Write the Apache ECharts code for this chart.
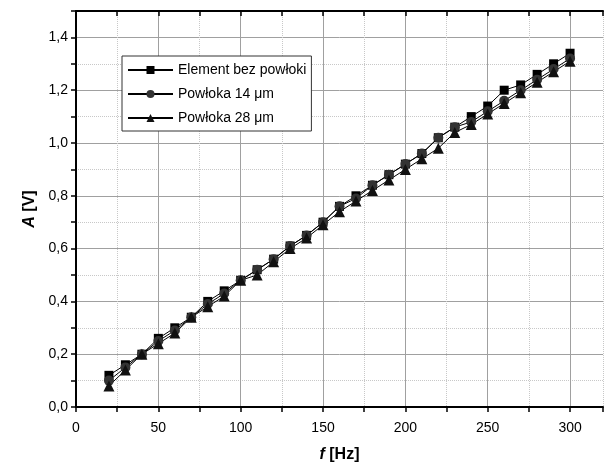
<!DOCTYPE html>
<html>
<head>
<meta charset="utf-8">
<script src="https://cdn.jsdelivr.net/npm/echarts@6/dist/echarts.min.js"></script>
<style>
  html, body { margin: 0; padding: 0; background: #fff; }
  #chart { width: 606px; height: 468px; }
</style>
</head>
<body>
<div id="chart"></div>
<script>
// częstotliwość [Hz]
const freq = [20, 30, 40, 50, 60, 70, 80, 90, 100, 110, 120, 130, 140, 150, 160,
  170, 180, 190, 200, 210, 220, 230, 240, 250, 260, 270, 280, 290, 300];
// amplituda [V]
const bezPowloki = [0.12, 0.16, 0.20, 0.26, 0.30, 0.34, 0.40, 0.44, 0.48, 0.52, 0.56, 0.61, 0.65, 0.70, 0.76,
  0.80, 0.84, 0.88, 0.92, 0.96, 1.02, 1.06, 1.10, 1.14, 1.20, 1.22, 1.26, 1.30, 1.34];
const powloka14 = [0.10, 0.15, 0.20, 0.25, 0.29, 0.34, 0.39, 0.43, 0.48, 0.52, 0.56, 0.61, 0.65, 0.70, 0.76,
  0.79, 0.84, 0.88, 0.92, 0.96, 1.02, 1.06, 1.08, 1.12, 1.16, 1.20, 1.24, 1.28, 1.32];
const powloka28 = [0.08, 0.14, 0.20, 0.24, 0.28, 0.34, 0.38, 0.42, 0.48, 0.50, 0.55, 0.60, 0.64, 0.69, 0.74,
  0.78, 0.82, 0.86, 0.90, 0.94, 0.98, 1.04, 1.07, 1.11, 1.15, 1.19, 1.23, 1.27, 1.31];
const seriesNames = ['Element bez powłoki', 'Powłoka 14 μm', 'Powłoka 28 μm'];

const font = 'Liberation Sans, Arial, sans-serif';
const pairs = (ys) => freq.map((x, i) => [x, ys[i]]);

const chart = echarts.init(document.getElementById('chart'), null, { renderer: 'canvas' });

const makeSeries = (name, ys, symbol, size, color) => ({
  name: name,
  type: 'line',
  data: pairs(ys),
  symbol: symbol,
  symbolSize: size,
  showAllSymbol: true,
  xAxisIndex: 0,
  yAxisIndex: 0,
  itemStyle: { color: color, borderWidth: 0 },
  lineStyle: { color: '#000', width: 1 },
  emphasis: { disabled: true },
  animation: false,
});

chart.setOption({
  animation: false,
  backgroundColor: '#fff',
  // plot runs slightly past the right edge, as in the picture
  grid: { left: 76, top: 11, right: -2, bottom: 59.5, containLabel: false },
  legend: {
    orient: 'vertical',
    left: 122,
    top: 56,
    padding: [6, 5, 5, 5],
    itemGap: 8,
    itemWidth: 45,
    itemHeight: 10,
    borderColor: '#333',
    borderWidth: 1,
    backgroundColor: '#fff',
    textStyle: { fontFamily: font, fontSize: 14, lineHeight: 16, color: '#000' },
    data: seriesNames,
  },
  xAxis: [
    {
      // dolna oś z opisami
      type: 'value',
      position: 'bottom',
      min: 0,
      max: 320,
      interval: 25,
      name: '{i|f} [Hz]',
      nameLocation: 'middle',
      nameGap: 40,
      nameTextStyle: {
        fontFamily: font, fontSize: 16, fontWeight: 'bold', color: '#000',
        rich: { i: { fontFamily: font, fontSize: 16, fontWeight: 'bold', fontStyle: 'italic', color: '#000' } },
      },
      axisLine: { show: true, lineStyle: { color: '#000', width: 2 } },
      axisTick: { show: true, inside: false, length: 5, lineStyle: { color: '#000', width: 1.5 } },
      axisLabel: {
        margin: 14,
        fontFamily: font, fontSize: 14, color: '#000',
        formatter: (v) => (v % 50 === 0 && v <= 300 ? String(v) : ''),
      },
      splitLine: { show: true, lineStyle: { color: ['#a0a0a0', 'transparent'], width: 1, type: 'solid' } },
    },
    {
      // górna ramka
      type: 'value',
      position: 'top',
      min: 0,
      max: 320,
      interval: 25,
      axisLine: { show: true, onZero: false, lineStyle: { color: '#000', width: 2 } },
      axisTick: { show: true, inside: true, length: 5, lineStyle: { color: '#000', width: 1.5 } },
      axisLabel: { show: false },
      splitLine: { show: true, lineStyle: { color: ['transparent', '#c8c8c8'], width: 1, type: 'dotted' } },
    },
  ],
  yAxis: [
    {
      type: 'value',
      position: 'left',
      min: 0,
      max: 1.5,
      interval: 0.1,
      name: '{i|A} [V]',
      nameLocation: 'middle',
      nameGap: 38,
      nameTextStyle: {
        fontFamily: font, fontSize: 16, fontWeight: 'bold', color: '#000',
        rich: { i: { fontFamily: font, fontSize: 16, fontWeight: 'bold', fontStyle: 'italic', color: '#000' } },
      },
      axisLine: { show: true, lineStyle: { color: '#000', width: 2 } },
      axisTick: { show: true, inside: false, length: 5, lineStyle: { color: '#000', width: 1.5 } },
      axisLabel: {
        margin: 8,
        fontFamily: font, fontSize: 14, color: '#000',
        formatter: (v) => {
          const k = Math.round(v * 10);
          return k % 2 === 0 && k < 15 ? v.toFixed(1).replace('.', ',') : '';
        },
      },
      splitLine: { show: true, lineStyle: { color: ['#a0a0a0', 'transparent'], width: 1, type: 'solid' } },
    },
    {
      // linie pomocnicze
      type: 'value',
      position: 'right',
      min: 0,
      max: 1.5,
      interval: 0.1,
      axisLine: { show: false },
      axisTick: { show: false },
      axisLabel: { show: false },
      splitLine: { show: true, lineStyle: { color: ['transparent', '#c8c8c8'], width: 1, type: 'dotted' } },
    },
  ],
  series: [
    makeSeries(seriesNames[0], bezPowloki, 'rect', 9, '#000'),
    makeSeries(seriesNames[1], powloka14, 'circle', 10, '#333'),
    makeSeries(seriesNames[2], powloka28, 'triangle', 11, '#111'),
  ],
});
</script>
</body>
</html>
